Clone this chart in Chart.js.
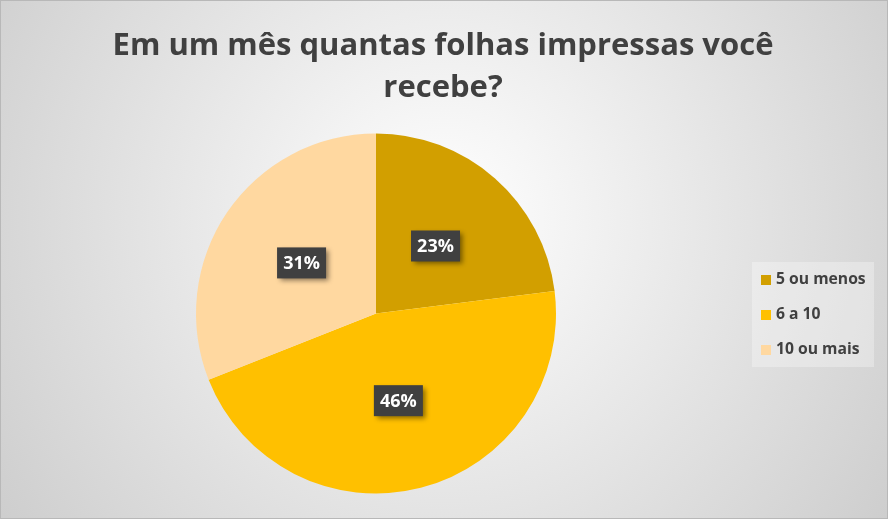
<!DOCTYPE html>
<html>
<head>
<meta charset="utf-8">
<script src="https://cdn.jsdelivr.net/npm/chart.js@4"></script>
<style>
  html, body { margin: 0; padding: 0; }
  #wrap { width: 888px; height: 519px; position: relative; }
</style>
</head>
<body>
<div id="wrap"><canvas id="PieChart" width="888" height="519"></canvas></div>
<script>
const Title = ["Em um mês quantas folhas impressas você", "recebe?"];
const Labels = ["5 ou menos", "6 a 10", "10 ou mais"];
const Values = [23, 46, 31];
const Colors = ["#D29F00", "#FFC000", "#FFD8A0"];

// radial grey background + thin frame
const backgroundPlugin = {
  id: "bg",
  beforeDraw(chart) {
    const { ctx, width, height } = chart;
    const g = ctx.createRadialGradient(width / 2, height * 0.42, 0, width / 2, height * 0.42, width * 0.6);
    g.addColorStop(0, "#ffffff");
    g.addColorStop(1, "#cecece");
    ctx.save();
    ctx.fillStyle = g;
    ctx.fillRect(0, 0, width, height);
    ctx.strokeStyle = "#b8b8b8";
    ctx.lineWidth = 1;
    ctx.strokeRect(0.5, 0.5, width - 1, height - 1);
    ctx.restore();
  },
};

// title, dark label boxes and the legend on the right
const overlayPlugin = {
  id: "overlay",
  afterDraw(chart) {
    const { ctx } = chart;
    ctx.save();
    ctx.fillStyle = "#404040";
    ctx.textAlign = "center";
    ctx.textBaseline = "middle";
    ctx.font = "bold 31px 'Open Sans'";
    ctx.fillText(Title[0], 443, 46);
    ctx.fillText(Title[1], 443, 88);

    const meta = chart.getDatasetMeta(0);
    const total = Values.reduce((a, b) => a + b, 0);
    ctx.font = "bold 18px 'Open Sans'";
    meta.data.forEach((arc, i) => {
      const p = arc.tooltipPosition();
      const txt = Math.round((Values[i] / total) * 100) + "%";
      const w = 49, h = 31;
      ctx.save();
      ctx.shadowColor = "rgba(0,0,0,0.45)";
      ctx.shadowBlur = 5;
      ctx.shadowOffsetX = 3;
      ctx.shadowOffsetY = 3;
      ctx.fillStyle = "#404040";
      ctx.fillRect(p.x - w / 2, p.y - h / 2, w, h);
      ctx.restore();
      ctx.fillStyle = "#ffffff";
      ctx.fillText(txt, p.x, p.y + 1);
    });

    // legend
    ctx.fillStyle = "rgba(255,255,255,0.3)";
    ctx.fillRect(752, 262, 122, 105);
    ctx.textAlign = "left";
    ctx.font = "bold 15.7px 'Open Sans'";
    Labels.forEach((l, i) => {
      const y = 280 + i * 35;
      ctx.fillStyle = Colors[i];
      ctx.fillRect(761, y - 5, 10, 10);
      ctx.fillStyle = "#404040";
      ctx.fillText(l, 776, y);
    });
    ctx.restore();
  },
};

new Chart(document.getElementById("PieChart"), {
  type: "pie",
  data: {
    labels: Labels,
    datasets: [{ data: Values, backgroundColor: Colors, borderWidth: 0 }],
  },
  options: {
    responsive: false,
    animation: false,
    layout: { padding: { top: 133, bottom: 25, left: 196, right: 332 } },
    plugins: {
      legend: { display: false },
      title: { display: false },
      tooltip: { enabled: false },
    },
  },
  plugins: [backgroundPlugin, overlayPlugin],
});
</script>
</body>
</html>
